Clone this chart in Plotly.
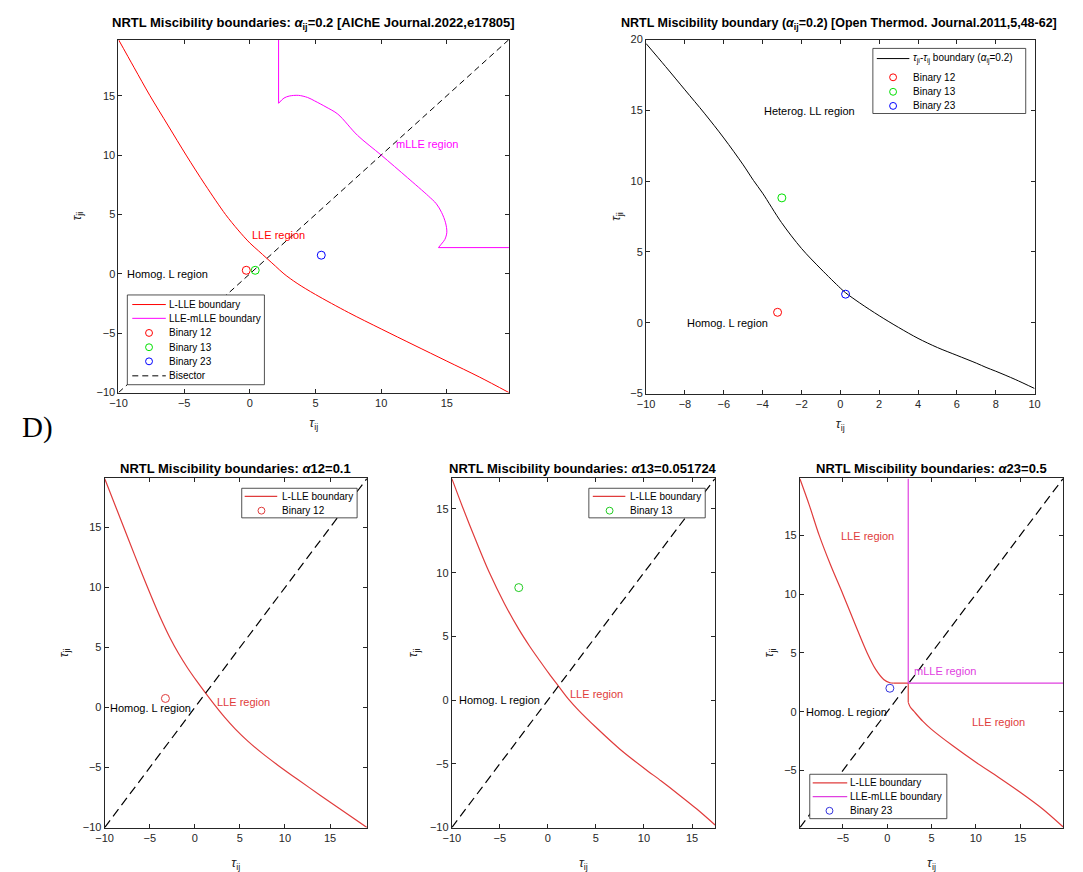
import plotly.graph_objects as go

W, H = 1083, 872
FONT = "Liberation Sans, Arial, Helvetica, sans-serif"
AXC = "#262626"

# ================= DATA =================
# Panel A: alpha_ij = 0.2 [AIChE Journal 2022]
A_lle_tij = [-10, -8.8, -7.6, -6.2, -4.85, -3.4, -1.85, -0.9, 0.0, 0.65, 1.3,
             1.95, 2.6, 3.6, 5.0, 7.5, 10.0, 12.5, 15.0, 17.5, 19.73]
A_lle_tji = [19.73, 17.35, 15.0, 12.45, 10.0, 7.5, 5.0, 3.7, 2.6, 1.95, 1.3,
             0.65, 0.0, -0.8, -1.74, -3.25, -4.64, -6.0, -7.35, -8.7, -10]
A_mlle_tij = [2.19, 2.19, 2.6, 3.0, 3.7, 4.4, 4.94, 5.8, 6.7, 8.2, 10.0, 12.0,
              13.6, 14.2, 14.6, 14.9, 15.0, 14.85, 14.65, 14.36, 19.73]
A_mlle_tji = [19.73, 14.36, 14.8, 14.97, 15.03, 14.85, 14.56, 14.05, 13.45, 11.66,
              10.0, 8.1, 6.55, 5.9, 5.17, 4.3, 3.5, 2.9, 2.6, 2.21, 2.21]
A_bin_tij = [-0.27, 0.41, 5.44]
A_bin_tji = [0.30, 0.30, 1.57]
A_bisector = [-10.0, 19.73]

# Panel B: alpha_ij = 0.2 [Open Thermod. Journal 2011]
B_tij = [-10, -9, -8, -7, -6, -5, -4.47, -4, -3.03, -2, -1, 0, 0.27, 1, 2, 3,
         4, 5, 6, 7, 7.5, 8, 9, 10]
B_tji = [19.72, 18.1, 16.45, 14.8, 13.05, 11.15, 10.05, 9.15, 7.08, 5.25, 3.8, 2.45,
         2.12, 1.4, 0.5, -0.33, -1.1, -1.75, -2.3, -2.85, -3.15, -3.42, -4.0, -4.64]
B_bin_tij = [-3.23, -3.01, 0.27]
B_bin_tji = [0.74, 8.82, 2.02]

# Panel C: alpha12 = 0.1
C_tij = [-10, -8.6, -7.3, -6.0, -4.8, -3.8, -2.8, -1.8, -0.8, 0.2, 1.2,
         2.22, 3.3, 4.5, 5.88, 7.46, 9.21, 11.43, 13.9, 16.4, 19.1]
C_tji = [19.1, 16.4, 13.9, 11.43, 9.21, 7.46, 5.88, 4.5, 3.3, 2.22, 1.2,
         0.2, -0.8, -1.8, -2.8, -3.8, -4.8, -6.0, -7.3, -8.6, -10]
C_bin_tij = [-3.26]
C_bin_tji = [0.76]
C_bisector = [-10.0, 19.1]

# Panel D: alpha13 = 0.051724
D_tij = [-10, -8.87, -7.5, -6.14, -4.5, -3.0, -1.9, -0.9, 0.1, 1.1,
         2.1, 3.2, 5.0, 7.5, 10.0, 11.8, 13.6, 15.5, 17.4]
D_tji = [17.4, 15.14, 12.54, 10.09, 7.55, 5.53, 4.23, 3.15, 2.1, 1.1,
         0.12, -0.8, -2.13, -3.85, -5.34, -6.35, -7.4, -8.55, -9.8]
D_bin_tij = [-3.03]
D_bin_tji = [8.83]
D_bisector = [-10.0, 17.4]

# Panel E: alpha23 = 0.5
E_lle_tij = [-9.85, -8.8, -7.67, -6.4, -5.0, -3.6, -2.26, -1.3, -0.4, 0.3, 0.7,
             2.37, 2.37, 2.6, 3.0, 4.0, 5.0, 7.4, 10.0, 12.5, 15.0, 17.5, 19.85]
E_lle_tji = [19.82, 17.6, 15.0, 12.5, 10.0, 7.4, 5.0, 3.6, 2.75, 2.47, 2.43,
             2.43, 0.8, 0.4, 0.05, -0.8, -1.5, -2.9, -4.3, -5.55, -6.85, -8.25, -9.8]
E_mlle_tij = [2.37, 2.37, 19.85]
E_mlle_tji = [19.85, 2.43, 2.43]
E_bin_tij = [0.3]
E_bin_tji = [2.0]
E_bisector = [-9.85, 19.85]

# ================= STYLE =================
RED_T, MAG_T, GRN_T, BLU_T = "#ff0000", "#ff00ff", "#00e000", "#0000ff"
RED_B, MAG_B, GRN_B, BLU_B = "#e03c3c", "#e040e0", "#22cc22", "#3333dd"

# pixel boxes (left, top, right, bottom) of the five axes
BOX = {
    "A": (111, 34, 507, 392),
    "B": (646, 34, 1040, 393),
    "C": (97, 479, 363, 833),
    "D": (449, 479, 716, 833),
    "E": (802, 479, 1069, 833),
}
AXN = {"A": "", "B": "2", "C": "3", "D": "4", "E": "5"}
# axis-title standoffs (x, y) per panel
STAND = {"A": (10, 12), "B": (10, 6), "C": (17, 11), "D": (17, 9), "E": (17, 7)}


def px(x):
    return x / W


def py(y):
    return 1 - y / H


fig = go.Figure()


def add_line(p, x, y, color, width=1.0, dash=None, smooth=False):
    line = dict(color=color, width=width, dash=dash)
    if smooth:
        line.update(shape="spline", smoothing=0.9)
    fig.add_trace(go.Scatter(x=x, y=y, mode="lines", showlegend=False, hoverinfo="skip",
                             line=line, xaxis="x" + AXN[p], yaxis="y" + AXN[p]))


def add_pts(p, x, y, color):
    fig.add_trace(go.Scatter(x=x, y=y, mode="markers", showlegend=False, hoverinfo="skip",
                             marker=dict(symbol="circle-open", size=8, color=color,
                                         line=dict(width=1, color=color)),
                             xaxis="x" + AXN[p], yaxis="y" + AXN[p]))


# Panel A
add_line("A", A_bisector, A_bisector, "#000000", 1, "6px,4px")
add_line("A", A_lle_tij, A_lle_tji, RED_T, smooth=True)
add_line("A", A_mlle_tij[:2], A_mlle_tji[:2], MAG_T)
add_line("A", A_mlle_tij[1:-1], A_mlle_tji[1:-1], MAG_T, smooth=True)
add_line("A", A_mlle_tij[-2:], A_mlle_tji[-2:], MAG_T)
add_pts("A", A_bin_tij[0:1], A_bin_tji[0:1], RED_T)
add_pts("A", A_bin_tij[1:2], A_bin_tji[1:2], GRN_T)
add_pts("A", A_bin_tij[2:3], A_bin_tji[2:3], BLU_T)

# Panel B
add_line("B", B_tij, B_tji, "#000000", smooth=True)
add_pts("B", B_bin_tij[0:1], B_bin_tji[0:1], RED_T)
add_pts("B", B_bin_tij[1:2], B_bin_tji[1:2], GRN_T)
add_pts("B", B_bin_tij[2:3], B_bin_tji[2:3], BLU_T)

# Panel C
add_line("C", C_tij, C_tji, RED_B, 1.2, smooth=True)
add_pts("C", C_bin_tij, C_bin_tji, RED_B)
add_line("C", C_bisector, C_bisector, "#000000", 1.2, "9px,5px")

# Panel D
add_line("D", D_tij, D_tji, RED_B, 1.2, smooth=True)
add_pts("D", D_bin_tij, D_bin_tji, GRN_B)
add_line("D", D_bisector, D_bisector, "#000000", 1.2, "9px,5px")

# Panel E
add_line("E", E_lle_tij[:11], E_lle_tji[:11], RED_B, 1.2, smooth=True)
add_line("E", E_lle_tij[10:13], E_lle_tji[10:13], RED_B, 1.2)
add_line("E", E_lle_tij[12:], E_lle_tji[12:], RED_B, 1.2, smooth=True)
add_line("E", E_mlle_tij, E_mlle_tji, MAG_B, 1.2)
add_pts("E", E_bin_tij, E_bin_tji, BLU_B)
add_line("E", E_bisector, E_bisector, "#000000", 1.2, "9px,5px")


def axis_style(rng, dtick, dom, title, anchor, standoff):
    return dict(range=rng, dtick=dtick, tick0=0, domain=dom, anchor=anchor,
                showline=True, linecolor=AXC, linewidth=1, mirror="ticks",
                ticks="inside", ticklen=4, tickwidth=1, tickcolor=AXC,
                showgrid=False, zeroline=False,
                tickfont=dict(family=FONT, size=11, color=AXC),
                title=dict(text=title, font=dict(family=FONT, size=13, color=AXC),
                           standoff=standoff))


RANGES = {
    "A": ([-10, 19.73], [-10, 19.73], 5, 5),
    "B": ([-10, 10], [-5, 20], 2, 5),
    "C": ([-10, 19.1], [-10, 19.1], 5, 5),
    "D": ([-10, 17.4], [-10, 17.4], 5, 5),
    "E": ([-9.85, 19.85], [-9.85, 19.85], 5, 5),
}
XT = "<i>τ</i><sub>ij</sub>"
YT = "<i>τ</i><sub>ji</sub>"
lay = {}
for p, (l, t, r, b) in BOX.items():
    xr, yr, dx, dy = RANGES[p]
    n = AXN[p]
    sx, sy = STAND[p]
    lay["xaxis" + n] = axis_style(xr, dx, [px(l), px(r)], XT, "y" + n, sx)
    lay["yaxis" + n] = axis_style(yr, dy, [py(b), py(t)], YT, "x" + n, sy)
fig.update_layout(**lay)

annotations = []
shapes = []

# titles
TITLES = [
    ("<b>NRTL Miscibility boundaries: <i>α</i><sub>ij</sub>=0.2 [AIChE Journal.2022,e17805]</b>", 309, 18, 13),
    ("<b>NRTL Miscibility boundary (<i>α</i><sub>ij</sub>=0.2) [Open Thermod. Journal.2011,5,48-62]</b>", 842, 18, 12.5),
    ("<b>NRTL Miscibility boundaries: <i>α</i>12=0.1</b>", 230, 469, 13),
    ("<b>NRTL Miscibility boundaries: <i>α</i>13=0.051724</b>", 582, 469, 13),
    ("<b>NRTL Miscibility boundaries: <i>α</i>23=0.5</b>", 935, 469, 13),
]
for txt, x, y, s in TITLES:
    annotations.append(dict(text=txt, x=px(x), y=py(y), xref="paper", yref="paper",
                            xanchor="center", yanchor="middle", showarrow=False,
                            font=dict(family=FONT, size=s, color="#000000")))

# panel label
annotations.append(dict(text="D)", x=px(11), y=py(427), xref="paper", yref="paper",
                        xanchor="left", yanchor="middle", showarrow=False,
                        font=dict(family="Liberation Serif, Times New Roman, serif", size=29,
                                  color="#000000")))

# region labels (data coordinates)
REGION_TEXT = [
    ("A", "LLE region", 0.05, 3.23, RED_T),
    ("A", "mLLE region", 10.95, 10.9, MAG_T),
    ("A", "Homog. L region", -9.52, 0.0, "#000000"),
    ("B", "Heterog. LL region", -4.01, 14.97, "#000000"),
    ("B", "Homog. L region", -8.02, 0.0, "#000000"),
    ("C", "Homog. L region", -9.64, 0.0, "#000000"),
    ("C", "LLE region", 2.2, 0.49, RED_B),
    ("D", "Homog. L region", -9.49, 0.0, "#000000"),
    ("D", "LLE region", 2.14, 0.49, RED_B),
    ("E", "LLE region", -5.42, 14.97, RED_B),
    ("E", "mLLE region", 2.75, 3.48, MAG_B),
    ("E", "Homog. L region", -9.39, 0.0, "#000000"),
    ("E", "LLE region", 9.31, -0.86, RED_B),
]
for p, txt, x, y, c in REGION_TEXT:
    annotations.append(dict(text=txt, x=x, y=y, xref="x" + AXN[p], yref="y" + AXN[p],
                            xanchor="left", yanchor="middle", showarrow=False,
                            font=dict(family=FONT, size=11, color=c)))


# legends drawn as boxes with sample lines / circles (pixel layout)
def legend(box, line_x, circ_x, text_x, rows, fsize=10):
    l, t, r, b = box
    shapes.append(dict(type="rect", xref="paper", yref="paper", layer="above",
                       x0=px(l), x1=px(r), y0=py(b), y1=py(t),
                       fillcolor="#ffffff", line=dict(color=AXC, width=0.8)))
    for kind, color, yrow, label, extra in rows:
        if kind == "line":
            shapes.append(dict(type="line", xref="paper", yref="paper", layer="above",
                               x0=px(line_x[0]), x1=px(line_x[1]), y0=py(yrow), y1=py(yrow),
                               line=dict(color=color, width=extra.get("w", 1),
                                         dash=extra.get("dash"))))
        else:
            rr = 3.5
            shapes.append(dict(type="circle", xref="paper", yref="paper", layer="above",
                               x0=px(circ_x - rr), x1=px(circ_x + rr),
                               y0=py(yrow + rr), y1=py(yrow - rr),
                               line=dict(color=color, width=1), fillcolor="rgba(0,0,0,0)"))
        annotations.append(dict(text=label, x=px(text_x), y=py(yrow), xref="paper", yref="paper",
                                xanchor="left", yanchor="middle", showarrow=False,
                                font=dict(family=FONT, size=fsize, color="#000000")))


legend((120, 293, 259, 384), (125, 159), 142, 160, [
    ("line", RED_T, 302.7, "L-LLE boundary", {}),
    ("line", MAG_T, 316.7, "LLE-mLLE boundary", {}),
    ("circ", RED_T, 331.5, "Binary 12", {}),
    ("circ", GRN_T, 346.0, "Binary 13", {}),
    ("circ", BLU_T, 360.3, "Binary 23", {}),
    ("line", "#000000", 375.0, "Bisector", {"dash": "6px,4px"}),
])
legend((876, 43, 1031, 109), (880, 913), 896.5, 915, [
    ("line", "#000000", 53.3,
     "<i>τ</i><sub>ji</sub>-<i>τ</i><sub>ij</sub> boundary (<i>α</i><sub>ij</sub>=0.2)", {}),
    ("circ", RED_T, 72.3, "Binary 12", {}),
    ("circ", GRN_T, 87.0, "Binary 13", {}),
    ("circ", BLU_T, 101.3, "Binary 23", {}),
])
legend((236, 489, 353, 519), (239, 272), 256, 275, [
    ("line", RED_B, 497.3, "L-LLE boundary", {"w": 1.2}),
    ("circ", RED_B, 511.7, "Binary 12", {}),
])
legend((588, 489, 706, 519), (592, 625), 609, 628, [
    ("line", RED_B, 497.3, "L-LLE boundary", {"w": 1.2}),
    ("circ", GRN_B, 511.7, "Binary 13", {}),
])
legend((812, 779, 951, 824), (815, 850), 832, 851, [
    ("line", RED_B, 787.7, "L-LLE boundary", {"w": 1.2}),
    ("line", MAG_B, 801.7, "LLE-mLLE boundary", {"w": 1.2}),
    ("circ", BLU_B, 816.0, "Binary 23", {}),
])

fig.update_layout(width=W, height=H, margin=dict(l=0, r=0, t=0, b=0),
                  paper_bgcolor="#ffffff", plot_bgcolor="#ffffff",
                  showlegend=False, annotations=annotations, shapes=shapes,
                  font=dict(family=FONT, size=11, color=AXC))

fig.write_html("out.html")
